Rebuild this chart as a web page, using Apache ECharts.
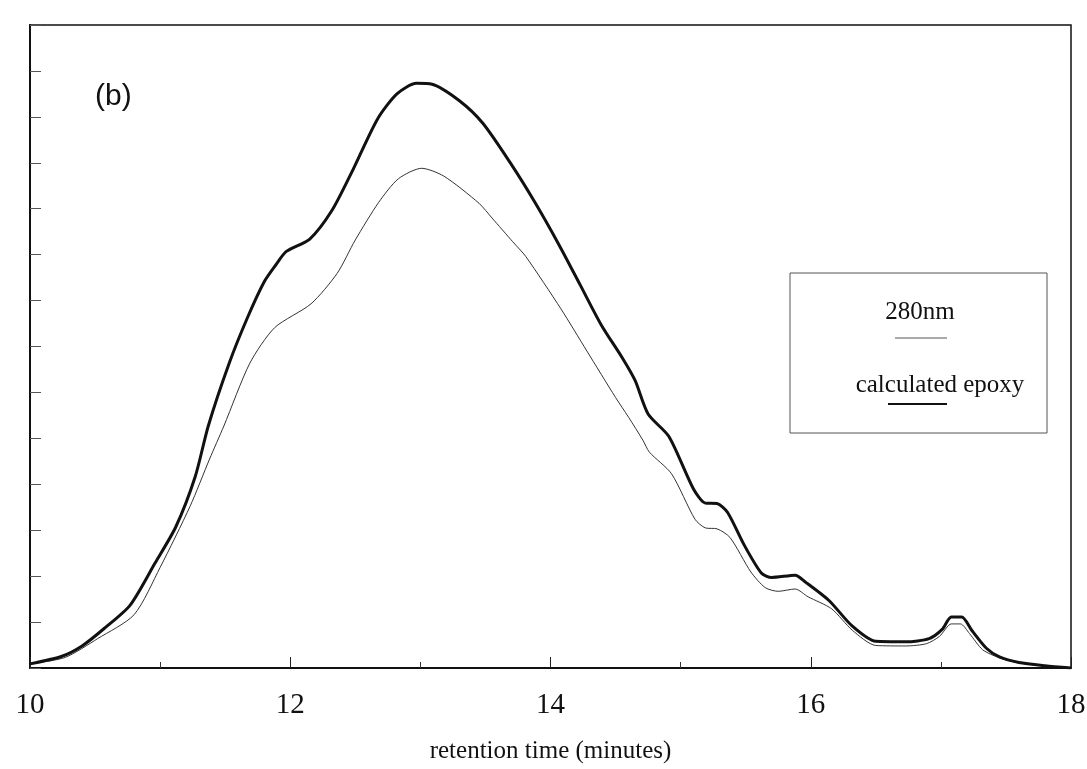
<!DOCTYPE html>
<html>
<head>
<meta charset="utf-8">
<script src="https://cdn.jsdelivr.net/npm/echarts@6/dist/echarts.min.js"></script>
<style>
html,body{margin:0;padding:0;background:#fff;}
#chart{width:1087px;height:769px;}
</style>
</head>
<body>
<div id="chart"></div>
<script>
// retention time (minutes) and detector response (arbitrary units)
const epoxyTime = [10.0, 10.24, 10.40, 10.57, 10.77, 10.96, 11.12, 11.27, 11.37, 11.53, 11.67, 11.80, 11.89, 11.97, 12.15, 12.32, 12.47, 12.67, 12.82, 12.97, 13.09, 13.30, 13.48, 13.70, 13.88, 14.07, 14.23, 14.39, 14.55, 14.65, 14.75, 14.91, 15.10, 15.19, 15.28, 15.36, 15.49, 15.62, 15.70, 15.88, 15.96, 16.14, 16.32, 16.50, 16.73, 16.91, 17.01, 17.08, 17.16, 17.24, 17.35, 17.45, 17.60, 17.80, 18.0];
const epoxyValue = [0.09, 0.25, 0.48, 0.86, 1.37, 2.28, 3.07, 4.17, 5.27, 6.63, 7.62, 8.41, 8.78, 9.07, 9.34, 9.96, 10.78, 11.95, 12.50, 12.73, 12.71, 12.35, 11.86, 10.96, 10.14, 9.19, 8.33, 7.47, 6.76, 6.26, 5.53, 5.04, 3.89, 3.59, 3.58, 3.39, 2.67, 2.07, 1.97, 2.02, 1.87, 1.47, 0.91, 0.58, 0.57, 0.64, 0.84, 1.11, 1.11, 0.81, 0.43, 0.24, 0.12, 0.05, 0.0];
const nm280Time = [10.0, 10.27, 10.52, 10.80, 11.00, 11.23, 11.38, 11.49, 11.69, 11.88, 12.16, 12.36, 12.50, 12.68, 12.83, 13.01, 13.18, 13.45, 13.55, 13.71, 13.81, 14.08, 14.28, 14.50, 14.60, 14.71, 14.76, 14.93, 15.11, 15.19, 15.28, 15.38, 15.54, 15.65, 15.75, 15.88, 15.98, 16.16, 16.32, 16.50, 16.73, 16.89, 16.99, 17.08, 17.15, 17.22, 17.32, 17.45, 17.60, 17.80, 18.0];
const nm280Value = [0.09, 0.23, 0.64, 1.16, 2.19, 3.52, 4.55, 5.27, 6.64, 7.41, 7.93, 8.59, 9.32, 10.14, 10.65, 10.88, 10.71, 10.12, 9.80, 9.28, 8.96, 7.82, 6.90, 5.89, 5.46, 4.96, 4.70, 4.23, 3.24, 3.05, 3.03, 2.84, 2.09, 1.75, 1.67, 1.72, 1.55, 1.29, 0.82, 0.49, 0.48, 0.53, 0.69, 0.96, 0.96, 0.75, 0.40, 0.22, 0.11, 0.04, 0.0];
const xTickLabels = ['10', '12', '14', '16', '18'];
const legendLabels = ['280nm', 'calculated epoxy'];
const panelLabel = '(b)';
const xAxisTitle = 'retention time (minutes)';

const zip = (a, b) => a.map((v, i) => [v, b[i]]);

const chart = echarts.init(document.getElementById('chart'), null, {renderer: 'canvas'});

const G = {left: 30, right: 16, top: 25, bottom: 101};

chart.setOption({
  animation: false,
  backgroundColor: '#fff',
  grid: {left: G.left, right: G.right, top: G.top, bottom: G.bottom, containLabel: false, outerBoundsMode: 'none',
    show: true, borderColor: '#111', borderWidth: 1.5, backgroundColor: 'transparent'},
  xAxis: {
    type: 'value', min: 10, max: 18, interval: 2,
    name: xAxisTitle, nameLocation: 'middle', nameGap: 71,
    nameTextStyle: {fontFamily: 'Liberation Serif', fontSize: 25, color: '#111'},
    axisLine: {lineStyle: {color: '#111', width: 2}},
    axisTick: {show: true, inside: true, length: 11, lineStyle: {color: '#222', width: 1}},
    minorTick: {show: true, splitNumber: 2, length: 6, lineStyle: {color: '#333', width: 1}},
    splitLine: {show: false},
    axisLabel: {fontFamily: 'Liberation Serif', fontSize: 29, color: '#111', margin: 23,
      formatter: v => xTickLabels[Math.round((v - 10) / 2)] ?? ''}
  },
  yAxis: {
    type: 'value', min: 0, max: 14, interval: 1,
    axisLine: {lineStyle: {color: '#111', width: 2}},
    axisTick: {show: true, inside: true, length: 11, lineStyle: {color: '#555', width: 1}},
    splitLine: {show: false},
    axisLabel: {show: false}
  },
  series: [
    {name: legendLabels[0], type: 'line', data: zip(nm280Time, nm280Value), smooth: 0.25, showSymbol: false,
      lineStyle: {color: '#333', width: 1}},
    {name: legendLabels[1], type: 'line', data: zip(epoxyTime, epoxyValue), smooth: 0.25, showSymbol: false,
      lineStyle: {color: '#111', width: 3}}
  ],
  graphic: [
    {type: 'text', left: 95, top: 82, style: {text: panelLabel, font: '30px "Liberation Sans"', fill: '#111'}},
    {type: 'rect', shape: {x: 790, y: 273, width: 257, height: 160}, style: {fill: '#fff', stroke: '#555', lineWidth: 1}},
    {type: 'text', x: 920, y: 312, style: {text: legendLabels[0], font: '25px "Liberation Serif"', fill: '#111', align: 'center', verticalAlign: 'middle'}},
    {type: 'line', shape: {x1: 895, y1: 338, x2: 947, y2: 338}, style: {stroke: '#555', lineWidth: 1}},
    {type: 'text', x: 940, y: 385, style: {text: legendLabels[1], font: '25px "Liberation Serif"', fill: '#111', align: 'center', verticalAlign: 'middle'}},
    {type: 'line', shape: {x1: 888, y1: 404, x2: 947, y2: 404}, style: {stroke: '#111', lineWidth: 2}}
  ]
});
</script>
</body>
</html>
